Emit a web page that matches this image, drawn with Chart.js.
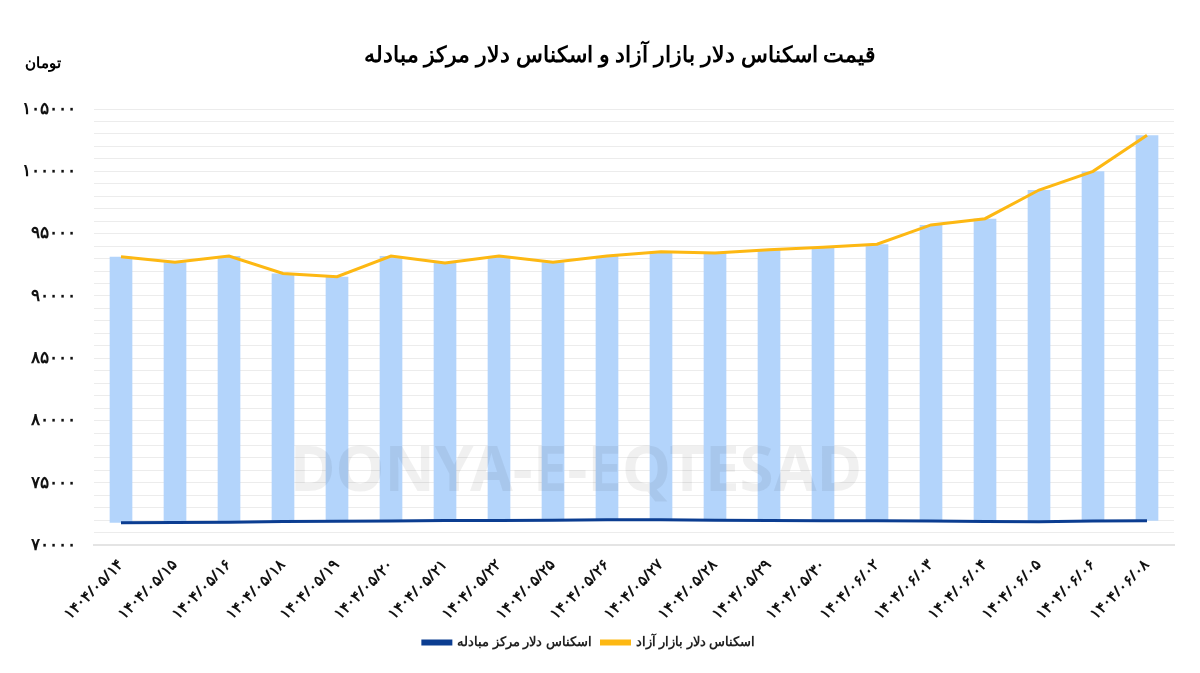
<!DOCTYPE html>
<html><head><meta charset="utf-8">
<script src="https://cdn.jsdelivr.net/npm/chart.js@4"></script>
<style>
body{margin:0;background:#fff;font-family:"Noto Sans",sans-serif;}
#wrap{position:relative;width:1200px;height:673px;}
h1{position:absolute;top:38px;left:0;width:1240px;text-align:center;margin:0;font-size:22px;font-weight:bold;direction:rtl;}
#unit{position:absolute;top:52px;left:25px;font-size:15px;font-weight:bold;}
#wm{position:absolute;top:425px;left:290px;font-size:62px;font-weight:bold;color:rgba(0,0,0,0.06);}
</style></head>
<body><div id="wrap">
<h1>قیمت اسکناس دلار بازار آزاد و اسکناس دلار مرکز مبادله</h1>
<div id="unit">تومان</div>
<div id="wm">DONYA-E-EQTESAD</div>
<canvas id="c" width="1200" height="673"></canvas>
</div>
<script>
// Data
const dates = ['۱۴۰۴/۰۵/۱۴','۱۴۰۴/۰۵/۱۵','۱۴۰۴/۰۵/۱۶','۱۴۰۴/۰۵/۱۸','۱۴۰۴/۰۵/۱۹','۱۴۰۴/۰۵/۲۰','۱۴۰۴/۰۵/۲۱','۱۴۰۴/۰۵/۲۲','۱۴۰۴/۰۵/۲۵','۱۴۰۴/۰۵/۲۶','۱۴۰۴/۰۵/۲۷','۱۴۰۴/۰۵/۲۸','۱۴۰۴/۰۵/۲۹','۱۴۰۴/۰۵/۳۰','۱۴۰۴/۰۶/۰۲','۱۴۰۴/۰۶/۰۳','۱۴۰۴/۰۶/۰۴','۱۴۰۴/۰۶/۰۵','۱۴۰۴/۰۶/۰۶','۱۴۰۴/۰۶/۰۸'];
const freeMarket = [93150,92700,93200,91800,91550,93200,92650,93200,92700,93200,93550,93450,93700,93900,94150,95700,96200,98500,100000,102900];
const exchangeCenter = [71800,71830,71850,71900,71920,71950,71980,71990,72010,72050,72040,72000,71990,71970,71960,71950,71900,71890,71940,71960];
const yMin = 70000, yMax = 105000;

function fa(s){ return String(s).replace(/\d/g, d => '۰۱۲۳۴۵۶۷۸۹'[d]); }

const ctx = document.getElementById('c').getContext('2d');
new Chart(ctx, {
    data: {
        labels: dates,
        datasets: [
            {
                type: 'line',
                label: 'اسکناس دلار مرکز مبادله',
                data: exchangeCenter,
                borderColor: '#0b3d91',
                backgroundColor: '#0b3d91',
                borderWidth: 3,
                pointRadius: 0,
                order: 0
            },
            {
                type: 'line',
                label: 'اسکناس دلار بازار آزاد',
                data: freeMarket,
                borderColor: '#fdb813',
                backgroundColor: '#fdb813',
                borderWidth: 3,
                pointRadius: 0,
                order: 1
            },
            {
                type: 'bar',
                label: 'bars',
                data: freeMarket.map((v, i) => [exchangeCenter[i], v]),
                backgroundColor: '#b3d4fb',
                categoryPercentage: 1,
                barPercentage: 0.42,
                order: 2
            }
        ]
    },
    options: {
        responsive: false,
        animation: false,
        layout: { padding: { top: 109, right: 26, left: 4, bottom: 14 } },
        plugins: {
            legend: {
                position: 'bottom',
                labels: {
                    filter: item => item.text !== 'bars',
                    boxWidth: 28, boxHeight: 3,
                    font: { size: 13, weight: 'bold', family: 'Noto Sans' },
                    color: '#222'
                }
            },
            tooltip: { enabled: false }
        },
        scales: {
            y: {
                min: yMin, max: yMax,
                ticks: {
                    stepSize: 1000,
                    autoSkip: false,
                    callback: v => v % 5000 === 0 ? fa(v) : '',
                    font: { size: 17, weight: 'bold', family: 'Noto Sans' },
                    color: '#111',
                    padding: 18
                },
                grid: { color: '#ececec', drawTicks: false },
                border: { display: false }
            },
            x: {
                offset: true,
                ticks: {
                    maxRotation: 45, minRotation: 45,
                    font: { size: 15, weight: 'bold', family: 'Noto Sans' },
                    color: '#111'
                },
                grid: { display: false },
                border: { color: '#e4e4e4', width: 2 }
            }
        }
    }
});
</script>
</body></html>
